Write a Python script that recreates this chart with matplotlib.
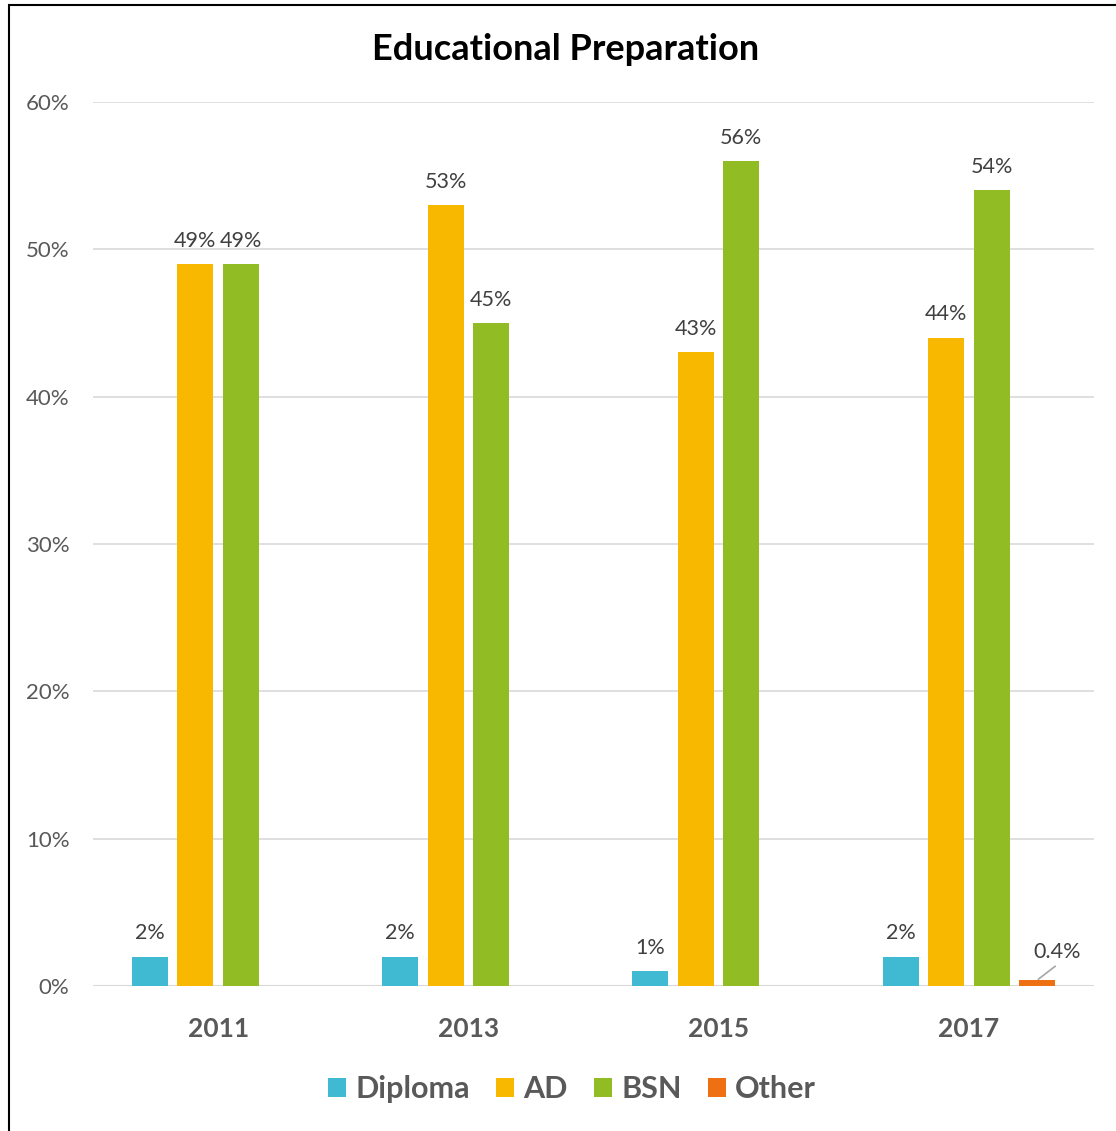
import numpy as np
import matplotlib
matplotlib.use("Agg")
import matplotlib.pyplot as plt
from matplotlib.patches import Rectangle

plt.rcParams.update({
    "font.family": ["Lato", "DejaVu Sans"],
})

years = ["2011", "2013", "2015", "2017"]
series = ["Diploma", "AD", "BSN", "Other"]
diploma = [2, 2, 1, 2]
ad = [49, 53, 43, 44]
bsn = [49, 45, 56, 54]
other = [None, None, None, 0.4]
colors = ["#3FBAD2", "#F9B800", "#92BC24", "#EE7012"]

W, H = 1116, 1131
fig = plt.figure(figsize=(W / 100, H / 100), dpi=100)
ax = fig.add_axes([93 / W, 145 / H, (1094 - 93) / W, (986 - 102) / H])

x = np.arange(len(years))
step = 0.182
width = 0.144
grey = "#595959"

for i, (name, vals, c) in enumerate(zip(series, [diploma, ad, bsn, other], colors)):
    off = (i - 1.5) * step
    for xi, v in zip(x, vals):
        if v is None:
            continue
        ax.bar(xi + off, v, width, color=c, zorder=3)
        lab = f"{v:g}%"
        if v < 1:
            # small value: label pushed up-right, leader line drawn on its own
            ax.annotate("", xy=(xi + off, v), xytext=(13, 10),
                        textcoords="offset points",
                        arrowprops=dict(arrowstyle="-", color="#a6a6a6", lw=1.2,
                                        shrinkA=0, shrinkB=1))
            ax.annotate(lab, xy=(xi + off, v), xytext=(14, 13),
                        textcoords="offset points", ha="center", va="bottom",
                        fontsize=15.5, color="#404040")
        else:
            ax.text(xi + off, v + 0.9, lab, ha="center", va="bottom",
                    fontsize=15.5, color="#404040")
    ax.bar(np.nan, 0, color=c, label=name)

ax.set_xlim(-0.5, 3.5)
ax.set_ylim(0, 60)
ax.set_yticks(np.arange(0, 61, 10))
ax.set_yticklabels([f"{t}%" for t in range(0, 61, 10)], fontsize=16, color=grey)
ax.set_xticks(x)
ax.set_xticklabels(years, fontsize=19, fontweight="bold", color=grey)
ax.tick_params(axis="both", length=0)
ax.tick_params(axis="y", pad=17)
ax.tick_params(axis="x", pad=22)
ax.grid(axis="y", color="#d9d9d9", lw=1.2, zorder=0)
for s in ax.spines.values():
    s.set_visible(False)
ax.axhline(0, color="#d9d9d9", lw=1.5, zorder=2)

fig.text(566 / W, 1 - 49 / H, "Educational Preparation", ha="center", va="center",
         fontsize=26, fontweight="bold", color="black")

leg = fig.legend(loc="center", bbox_to_anchor=(572 / W, 1 - 1089 / H), ncol=4,
                 frameon=False, fontsize=22, handlelength=0.6, handleheight=0.6,
                 handletextpad=0.3, columnspacing=0.85)
for t in leg.get_texts():
    t.set_color(grey)
    t.set_fontweight("bold")

fig.patches.append(Rectangle((8.5 / W, -0.05), 1.2, 1 - 4.5 / H + 0.05,
                             transform=fig.transFigure, fill=False,
                             edgecolor="black", lw=1.5))

fig.savefig("out.png", dpi=100)
